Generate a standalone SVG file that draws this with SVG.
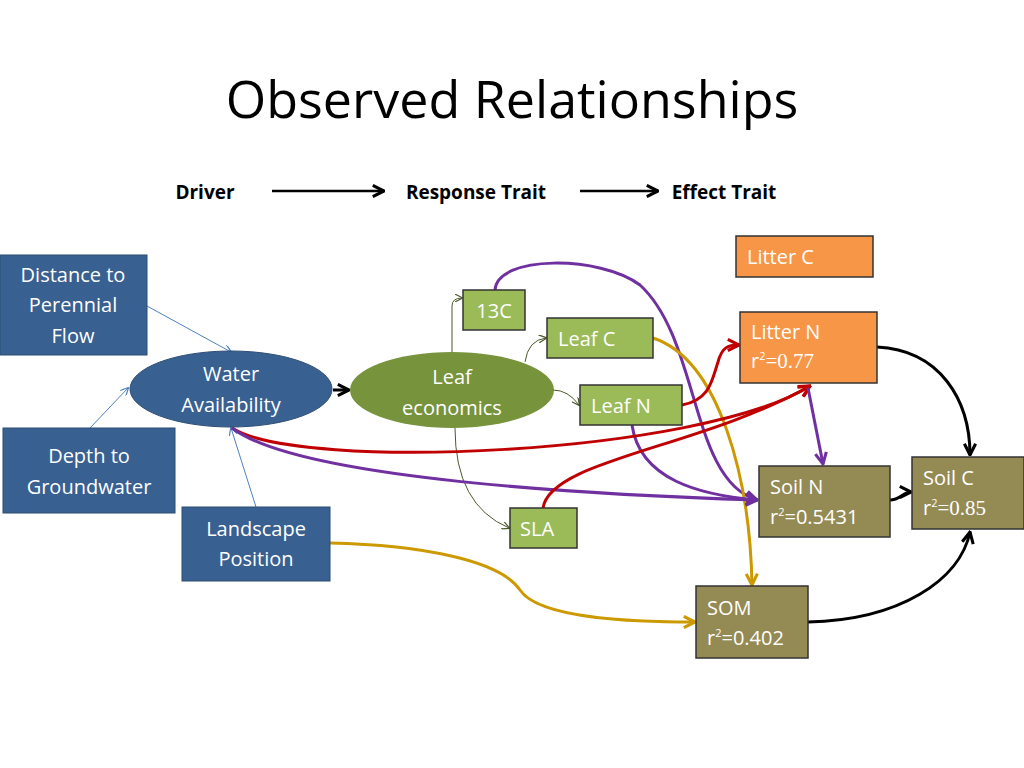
<svg xmlns="http://www.w3.org/2000/svg" width="1024" height="768" viewBox="0 0 1024 768">
<style>
text{font-family:"Open Sans","Liberation Sans",sans-serif;fill:#fff;font-size:20px}
.t{fill:#000}
.title{font-size:52px}
.h{font-size:19px;font-weight:bold}
.sup{font-size:11px}
.serif{font-family:"Liberation Serif",serif;font-size:21px}
.blue{fill:#386090;stroke:#2c4d75;stroke-width:1}
.lg{fill:#9bbb59;stroke:#333;stroke-width:1.5}
.or{fill:#f79646;stroke:#333;stroke-width:1.5}
.ol{fill:#948a54;stroke:#333;stroke-width:1.5}
.c{fill:none}
</style>
<defs>
<marker id="ab" viewBox="0 0 10 10" refX="9" refY="5" markerWidth="8" markerHeight="8" orient="auto" markerUnits="userSpaceOnUse"><path d="M0,0 L10,5 L0,10" fill="none" stroke="#4f81bd" stroke-width="1.5"/></marker>
<marker id="ag" viewBox="0 0 10 10" refX="9" refY="5" markerWidth="8" markerHeight="8" orient="auto" markerUnits="userSpaceOnUse"><path d="M0,0 L10,5 L0,10" fill="none" stroke="#4a5a2a" stroke-width="1.5"/></marker>
<marker id="ak" viewBox="0 0 10 10" refX="9" refY="5" markerWidth="14" markerHeight="14" orient="auto" markerUnits="userSpaceOnUse"><path d="M1,1 L9,5 L1,9" fill="none" stroke="#000" stroke-width="2.2"/></marker>
<marker id="ap" viewBox="0 0 10 10" refX="9" refY="5" markerWidth="14" markerHeight="14" orient="auto" markerUnits="userSpaceOnUse"><path d="M1,1 L9,5 L1,9" fill="none" stroke="#7030a0" stroke-width="2.2"/></marker>
<marker id="ar" viewBox="0 0 10 10" refX="9" refY="5" markerWidth="14" markerHeight="14" orient="auto" markerUnits="userSpaceOnUse"><path d="M1,1 L9,5 L1,9" fill="none" stroke="#c00000" stroke-width="2.2"/></marker>
<marker id="ay" viewBox="0 0 10 10" refX="9" refY="5" markerWidth="14" markerHeight="14" orient="auto" markerUnits="userSpaceOnUse"><path d="M1,1 L9,5 L1,9" fill="none" stroke="#cc9900" stroke-width="2.2"/></marker>
</defs>
<rect width="1024" height="768" fill="#fff"/>
<text class="t title" x="512" y="118" text-anchor="middle">Observed Relationships</text>
<g id="header">
<text class="t h" x="205" y="199" text-anchor="middle">Driver</text>
<text class="t h" x="476" y="199" text-anchor="middle">Response Trait</text>
<text class="t h" x="724" y="199" text-anchor="middle">Effect Trait</text>
</g>
<g id="connectors" class="c">
<path d="M272,191 L384,191" stroke="#000" stroke-width="2.5" marker-end="url(#ak)"/>
<path d="M580,191 L658,191" stroke="#000" stroke-width="2.5" marker-end="url(#ak)"/>
<path d="M147,306 L231,352" stroke="#4f81bd" stroke-width="1" marker-end="url(#ab)"/>
<path d="M90,428 L128,388" stroke="#4f81bd" stroke-width="1" marker-end="url(#ab)"/>
<path d="M256,507 L231,428" stroke="#4f81bd" stroke-width="1" marker-end="url(#ab)"/>
<path d="M333,390 L349,390" stroke="#000" stroke-width="3" marker-end="url(#ak)"/>
<path d="M452,352 L452,306 Q452,298 462,298" stroke="#4a5a2a" stroke-width="1" marker-end="url(#ag)"/>
<path d="M525,362 Q528,340 546,338" stroke="#4a5a2a" stroke-width="1" marker-end="url(#ag)"/>
<path d="M553,390 Q568,390 579,405" stroke="#4a5a2a" stroke-width="1" marker-end="url(#ag)"/>
<path d="M455,428 Q455,505 509,528" stroke="#4a5a2a" stroke-width="1" marker-end="url(#ag)"/>
<path d="M495,290 C497,255 600,255 640,285 C700,340 690,480 757,500" stroke="#7030a0" stroke-width="3" marker-end="url(#ap)"/>
<path d="M653,338 C720,360 750,480 752,585" stroke="#cc9900" stroke-width="3" marker-end="url(#ay)"/>
<path d="M682,405 C710,400 712,380 718,362 C722,347 728,345 739,345" stroke="#c00000" stroke-width="3" marker-end="url(#ar)"/>
<path d="M632,425 C640,480 700,495 757,500" stroke="#7030a0" stroke-width="3" marker-end="url(#ap)"/>
<path d="M232,428 C300,472 700,455 810,386" stroke="#c00000" stroke-width="3" marker-end="url(#ar)"/>
<path d="M232,428 C300,480 600,495 757,500" stroke="#7030a0" stroke-width="3" marker-end="url(#ap)"/>
<path d="M543,508 C550,460 700,448 810,386" stroke="#c00000" stroke-width="3" marker-end="url(#ar)"/>
<path d="M808,388 L823,464" stroke="#7030a0" stroke-width="3" marker-end="url(#ap)"/>
<path d="M877,347 C940,350 970,400 970,455" stroke="#000" stroke-width="3" marker-end="url(#ak)"/>
<path d="M890,500 C900,500 903,492 911,492" stroke="#000" stroke-width="3" marker-end="url(#ak)"/>
<path d="M808,622 C900,620 960,580 970,532" stroke="#000" stroke-width="3" marker-end="url(#ak)"/>
<path d="M330,543 C420,545 500,560 520,590 C540,620 640,622 695,622" stroke="#cc9900" stroke-width="3" marker-end="url(#ay)"/>
</g>
<g id="distance"><rect class="blue" x="0" y="255" width="147" height="100"/><text x="73" y="282" text-anchor="middle">Distance to</text><text x="73" y="312" text-anchor="middle">Perennial</text><text x="73" y="343" text-anchor="middle">Flow</text></g>
<g id="water"><ellipse class="blue" cx="231" cy="389" rx="101" ry="38"/><text x="231" y="381" text-anchor="middle">Water</text><text x="231" y="412" text-anchor="middle">Availability</text></g>
<g id="depth"><rect class="blue" x="3" y="428" width="172" height="85"/><text x="89" y="463" text-anchor="middle">Depth to</text><text x="89" y="494" text-anchor="middle">Groundwater</text></g>
<g id="landscape"><rect class="blue" x="182" y="507" width="148" height="74"/><text x="256" y="536" text-anchor="middle">Landscape</text><text x="256" y="566" text-anchor="middle">Position</text></g>
<g id="leafecon"><ellipse cx="452" cy="390" rx="102" ry="38" fill="#77933c"/><text x="452" y="384" text-anchor="middle">Leaf</text><text x="452" y="415" text-anchor="middle">economics</text></g>
<g id="c13"><rect class="lg" x="463" y="290" width="62" height="40"/><text x="494" y="318" text-anchor="middle">13C</text></g>
<g id="leafc"><rect class="lg" x="547" y="318" width="106" height="40"/><text x="558" y="346">Leaf C</text></g>
<g id="leafn"><rect class="lg" x="580" y="385" width="102" height="40"/><text x="591" y="413">Leaf N</text></g>
<g id="sla"><rect class="lg" x="510" y="508" width="67" height="40"/><text x="520" y="536">SLA</text></g>
<g id="litterc"><rect class="or" x="736" y="236" width="137" height="41"/><text x="747" y="264">Litter C</text></g>
<g id="littern"><rect class="or" x="740" y="312" width="137" height="71"/><text x="751" y="339">Litter N</text><text x="751" y="368">r<tspan class="sup" dy="-8">2</tspan><tspan class="serif" dy="8">=0.77</tspan></text></g>
<g id="soiln"><rect class="ol" x="759" y="466" width="131" height="71"/><text x="770" y="494">Soil N</text><text x="770" y="524">r<tspan class="sup" dy="-8">2</tspan><tspan dy="8">=0.5431</tspan></text></g>
<g id="soilc"><rect class="ol" x="912" y="457" width="112" height="72"/><text x="923" y="485">Soil C</text><text x="923" y="515">r<tspan class="sup" dy="-8">2</tspan><tspan class="serif" dy="8">=0.85</tspan></text></g>
<g id="som"><rect class="ol" x="696" y="586" width="112" height="72"/><text x="707" y="615">SOM</text><text x="707" y="645">r<tspan class="sup" dy="-8">2</tspan><tspan dy="8">=0.402</tspan></text></g>
</svg>
